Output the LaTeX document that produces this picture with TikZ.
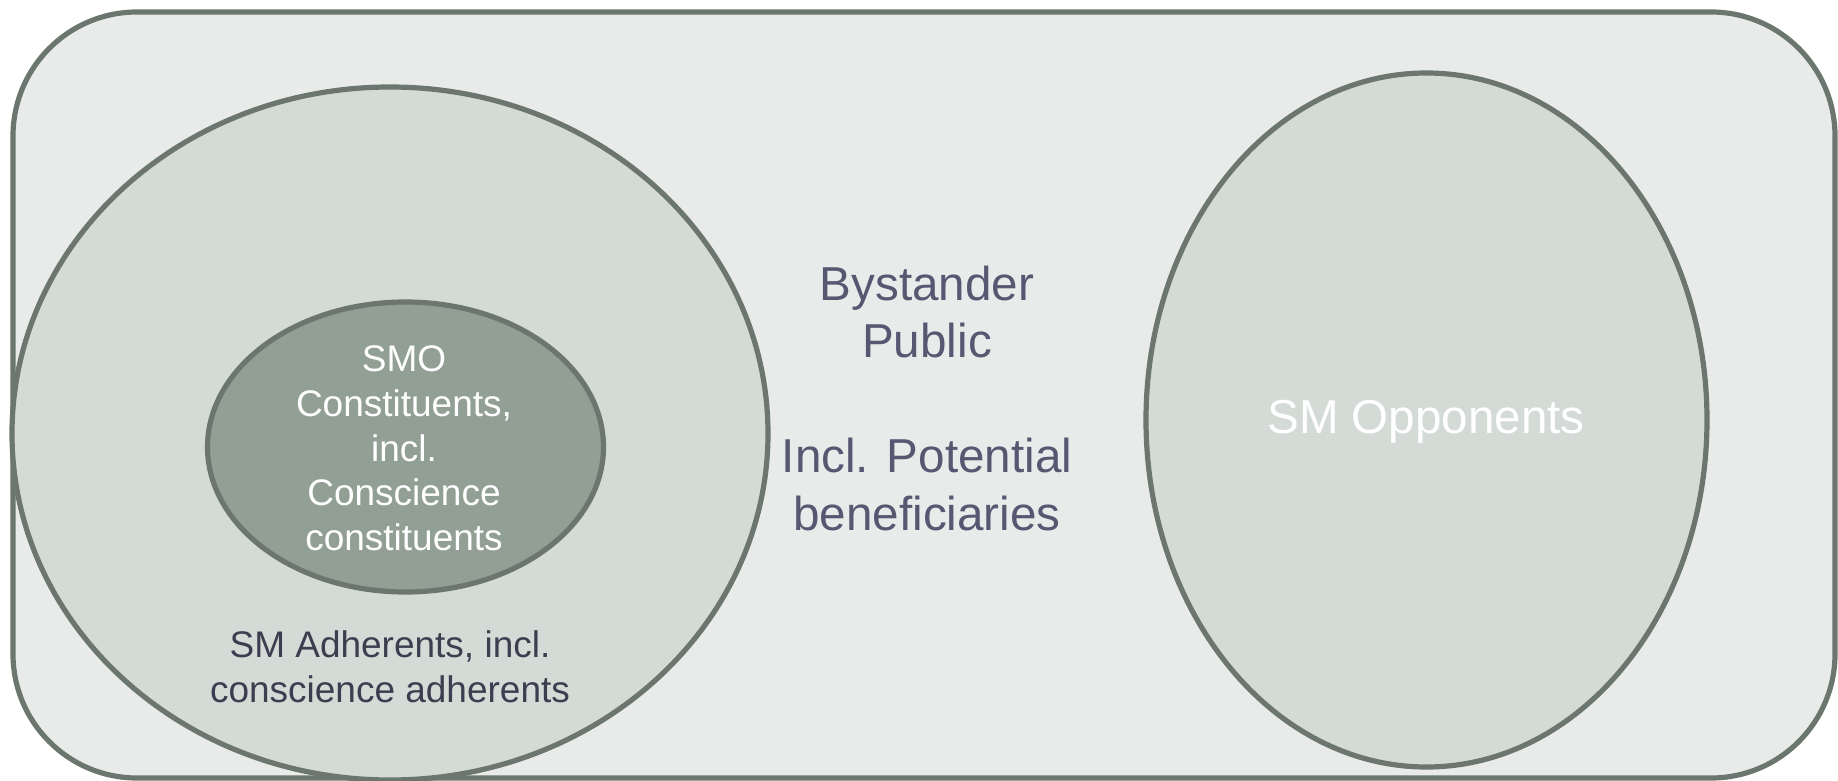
\documentclass[tikz,border=0pt]{standalone}
\usepackage{fontspec}
\setmainfont{Liberation Sans}
\usepackage{xcolor}
\usepackage{tikz}
\usetikzlibrary{
	shapes.geometric
}

\definecolor{rim}{HTML}{6B776E}
\definecolor{public}{HTML}{E9EBEA}
\definecolor{adherent}{HTML}{D4DBD7}
\definecolor{member}{HTML}{919F94}
\definecolor{slate}{HTML}{555870}
\definecolor{ink}{HTML}{3C3D4E}

\begin{document}
\begin{tikzpicture}[x=0.5pt,y=-0.5pt,
	set/.style={ellipse,draw=rim,line width=2.6pt,inner sep=0pt},
	big/.style={font=\fontsize{23.8}{28.75}\selectfont,align=center},
	small/.style={font=\fontsize{18.5}{22.35}\selectfont,align=center}]
	\useasboundingbox (0,0) rectangle (1838,781);
	% sets
	\node[draw=rim,fill=public,line width=2.6pt,rounded corners=62pt,
		minimum width=911pt,minimum height=383pt] (public) at (924,395) {};
	\node[set,fill=adherent,minimum width=378pt,minimum height=346.5pt] (adh) at (390,433.5) {};
	\node[set,fill=member,minimum width=198pt,minimum height=145pt] (smo) at (405.5,447) {};
	\node[set,fill=adherent,minimum width=280.5pt,minimum height=347pt] (opp) at (1426.5,420) {};
	% labels
	\node[big,text=slate] (bystander) at (927,398)
		{Bystander\\Public\\[28.75pt]Incl. Potential\\beneficiaries};
	\node[small,text=white] (smotext) at (404,448.5)
		{SMO\\Constituents,\\incl.\\Conscience\\constituents};
	\node[small,text=ink] (adhtext) at (390,667)
		{SM Adherents, incl.\\conscience adherents};
	\node[big,text=white] (opptext) at (1426,422) {SM Opponents};
\end{tikzpicture}
\end{document}
